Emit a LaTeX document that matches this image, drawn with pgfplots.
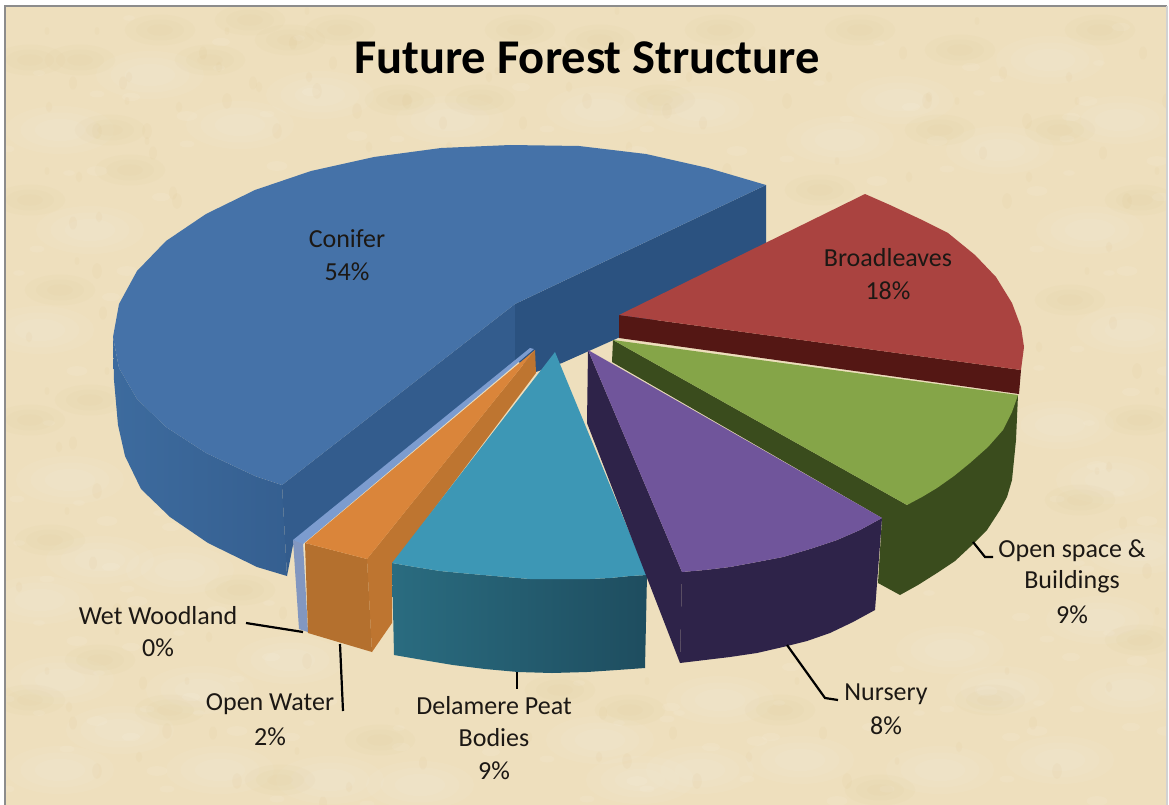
\documentclass[border=0pt]{standalone}
\usepackage{pgfplots}
\usepackage{pgfplotstable}
\pgfplotsset{compat=1.18}
\usepackage{fontspec}
\setmainfont{Carlito}
\definecolor{bg}{HTML}{EEDFBD}
\definecolor{blot}{HTML}{D9BE86}
\definecolor{bluetop}{HTML}{4572A8}
\definecolor{bluewalla}{HTML}{3D6B9E}
\definecolor{bluewallb}{HTML}{355F90}
\definecolor{bluein}{HTML}{335C8D}
\definecolor{blueinr}{HTML}{2B5280}
\definecolor{redtop}{HTML}{AA4340}
\definecolor{redwall}{HTML}{541714}
\definecolor{greentop}{HTML}{85A548}
\definecolor{greenwall}{HTML}{3A4C1D}
\definecolor{purpletop}{HTML}{70559B}
\definecolor{purplewall}{HTML}{2E2349}
\definecolor{tealtop}{HTML}{3D97B5}
\definecolor{tealwalla}{HTML}{2A6C80}
\definecolor{tealwallb}{HTML}{1E4D5F}
\definecolor{orangetop}{HTML}{DA853A}
\definecolor{orangewall}{HTML}{B4702E}
\definecolor{orangewallb}{HTML}{BE7530}
\definecolor{wettop}{HTML}{7C9CCF}
\definecolor{wetwall}{HTML}{8297C0}
\definecolor{txt}{HTML}{1C1814}
\tikzset{lab/.style={font=\fontsize{26}{26}\selectfont,text=txt,anchor=center,inner sep=0pt},
 lead/.style={black,line width=2.2pt},
 lb/.style={only marks,mark=*,mark size=#1,mark options={draw opacity=0,fill=white,fill opacity=0.05,xscale=1.8,yscale=0.8}},
 db/.style={only marks,mark=*,mark size=#1,mark options={draw opacity=0,fill=blot,fill opacity=0.06,xscale=1.6,yscale=0.7}},
 lg/.style={only marks,mark=*,mark size=#1,mark options={draw opacity=0,fill=white,fill opacity=0.08,xscale=1.5,yscale=0.7}},
 dg/.style={only marks,mark=*,mark size=#1,mark options={draw opacity=0,fill=blot,fill opacity=0.09,xscale=0.8,yscale=1.3}}}
\pgfplotstableread{
x y
60 130
150 75
240 125
320 95
90 230
40 330
70 480
40 600
100 560
180 570
120 730
220 770
60 770
330 780
420 785
600 740
700 770
800 760
940 770
1060 760
1130 690
1110 480
1060 425
1130 330
1090 230
1000 150
1120 120
900 100
1050 60
840 140
700 110
600 110
450 120
1000 690
1100 620
720 700
640 780
290 660
200 690
60 680
1140 550
950 650
}\lightblots
\pgfplotstableread{
x y
30 60
110 130
210 60
290 40
130 170
30 200
60 290
30 420
90 400
50 540
240 590
100 660
30 700
170 710
280 780
380 740
560 690
630 710
780 710
880 790
990 700
1140 640
1080 500
1140 420
1070 300
1140 200
940 130
1060 130
860 30
1100 30
960 50
660 100
480 100
820 190
340 30
400 100
520 30
600 40
720 30
250 20
160 30
80 60
}\darkblots
\begin{document}
\begin{tikzpicture}
\begin{axis}[scale only axis,width=1169pt,height=805pt,xmin=0,xmax=1169,ymin=0,ymax=805,y dir=reverse,
  hide axis,clip=true,clip marker paths=true]
% background
\addplot[draw=none,fill=bg] coordinates {(5,6)(1167,6)(1167,805)(5,805)} -- cycle;
% mottling
\addplot[lb=30pt] table {\lightblots};
\addplot[lb=22pt] table {\lightblots};
\addplot[lb=14pt] table {\lightblots};
\addplot[db=22pt] table {\darkblots};
\addplot[db=15pt] table {\darkblots};
\addplot[db=8pt] table {\darkblots};
\addplot[lg=7pt] table[x expr=\thisrow{x}+37,y expr=\thisrow{y}+41] {\lightblots};
\addplot[lg=5pt] table[x expr=\thisrow{x}-53,y expr=\thisrow{y}+19] {\lightblots};
\addplot[lg=6pt] table[x expr=\thisrow{x}+71,y expr=\thisrow{y}-33] {\lightblots};
\addplot[lg=4pt] table[x expr=\thisrow{x}-21,y expr=\thisrow{y}-57] {\lightblots};
\addplot[dg=5pt] table[x expr=\thisrow{x}+43,y expr=\thisrow{y}+23] {\darkblots};
\addplot[dg=4pt] table[x expr=\thisrow{x}-31,y expr=\thisrow{y}+47] {\darkblots};
\addplot[dg=6pt] table[x expr=\thisrow{x}+67,y expr=\thisrow{y}+71] {\darkblots};
\addplot[dg=3pt] table[x expr=\thisrow{x}+17,y expr=\thisrow{y}-29] {\darkblots};
% white margin and frame
\addplot[draw=none,fill=white] coordinates {(0,0)(1169,0)(1169,6)(0,6)} -- cycle;
\addplot[draw=none,fill=white] coordinates {(0,0)(5,0)(5,805)(0,805)} -- cycle;
\addplot[draw=none,fill=white] coordinates {(1167,0)(1169,0)(1169,805)(1167,805)} -- cycle;
\addplot[draw=gray!90,line width=2pt] coordinates {(5,805)(5,6)(1167,6)};
\addplot[draw=gray!35,line width=1.5pt] coordinates {(1167,6)(1167,805)};
% conifer
\addplot[draw=none,left color=bluewalla,right color=bluewallb] coordinates {(113,337)(119,368)(137,399)(166,427)(206,453)(255,476)(282,485)(287,576)(257,567)(208,543)(170,517)(141,489)(125,456)(118,425)(114,380)} -- cycle;
\addplot[draw=none,fill=bluein] coordinates {(282,485)(515,304)(515,348)(530,348)(293,545)(287,576)} -- cycle;
\addplot[draw=none,fill=blueinr] coordinates {(515,304)(766,185)(766,272)(562,363)(536,372)(515,360)} -- cycle;
\addplot[draw=none,fill=bluetop] coordinates {(113,337)(119,304)(137,271)(166,241)(206,214)(255,190)(311,171)(374,157)(441,148)(510,145)(579,146)(646,154)(708,168)(766,185)(515,304)(282,485)(255,476)(206,453)(166,427)(137,399)(119,368)} -- cycle;
% wet woodland
\addplot[draw=none,fill=wetwall] coordinates {(293,540)(303,543)(308,632)(299,629)} -- cycle;
\addplot[draw=none,fill=wettop] coordinates {(293,540)(530,348)(534,349)(303,544)} -- cycle;
% open water
\addplot[draw=none,fill=orangewallb] coordinates {(367,559)(535,350)(536,373)(392,565)(392,623)(372,652)} -- cycle;
\addplot[draw=none,fill=orangewall] coordinates {(305,543)(367,559)(372,652)(308,633)} -- cycle;
\addplot[draw=none,fill=orangetop] coordinates {(305,543)(535,350)(367,559)} -- cycle;
% peat
\addplot[draw=none,left color=tealwalla,right color=tealwallb] coordinates {(392,563)(415,567)(440,571)(461,573)(483,575)(506,577)(530,579)(550,579)(570,579)(590,579)(610,578)(630,576)(647,575)(645,668)(617,670)(587,672)(552,673)(518,672)(485,669)(453,665)(423,660)(394,655)} -- cycle;
\addplot[draw=none,fill=tealtop] coordinates {(555,352)(647,575)(630,576)(610,578)(590,579)(570,579)(550,579)(530,579)(506,577)(483,575)(461,573)(440,571)(415,567)(392,563)} -- cycle;
% open space
\addplot[draw=none,fill=greenwall] coordinates {(613,340)(907,505)(1018,395)(1016,440)(1012,480)(1007,497)(1000,510)(987,530)(970,547)(955,561)(937,573)(918,585)(900,595)(878,583)(882,518)(612,362)} -- cycle;
\addplot[draw=none,fill=greentop] coordinates {(613,340)(1018,395)(1012,412)(1003,430)(988,447)(970,463)(954,476)(937,488)(922,497)(907,505)} -- cycle;
% nursery
\addplot[draw=none,fill=purplewall] coordinates {(588,350)(682,572)(680,663)(587,423)} -- cycle;
\addplot[draw=none,fill=purplewall] coordinates {(682,572)(705,570)(730,567)(757,562)(783,557)(810,549)(837,540)(860,530)(882,518)(875,610)(853,622)(830,633)(807,641)(783,647)(757,653)(730,657)(705,660)(680,663)} -- cycle;
\addplot[draw=none,fill=purpletop] coordinates {(588,350)(882,518)(860,530)(837,540)(810,549)(783,557)(757,562)(730,567)(705,570)(682,572)} -- cycle;
% broadleaves
\addplot[draw=none,fill=redwall] coordinates {(619,315)(1021,370)(1019,394)(619,338)} -- cycle;
\addplot[draw=none,fill=redtop] coordinates {(619,315)(865,194)(890,205)(920,219)(948,233)(975,255)(996,277)(1012,303)(1021,327)(1024,347)(1021,370)} -- cycle;
% leaders
\addplot[lead] coordinates {(246,623)(303,632)};
\addplot[lead] coordinates {(340,644)(343,711)};
\addplot[lead] coordinates {(517,672)(517,689)};
\addplot[lead] coordinates {(787,645)(825,698)(838,700)};
\addplot[lead] coordinates {(973,542)(985,557)(993,557)};
% text
\node[font=\fontsize{48.5}{48.5}\selectfont\bfseries,text=black,inner sep=0pt] at (axis cs:587,58) {Future Forest Structure};
\node[lab] at (axis cs:347,239) {Conifer};
\node[lab] at (axis cs:347,272) {54\%};
\node[lab] at (axis cs:888,258) {Broadleaves};
\node[lab] at (axis cs:888,291) {18\%};
\node[lab] at (axis cs:158,616) {Wet Woodland};
\node[lab] at (axis cs:158,648) {0\%};
\node[lab] at (axis cs:270,704) {Open Water};
\node[lab] at (axis cs:270,737) {2\%};
\node[lab] at (axis cs:494,706) {Delamere Peat};
\node[lab] at (axis cs:494,738) {Bodies};
\node[lab] at (axis cs:494,771) {9\%};
\node[lab] at (axis cs:886,694) {Nursery};
\node[lab] at (axis cs:886,726) {8\%};
\node[lab] at (axis cs:1072,551) {Open space \&};
\node[lab] at (axis cs:1072,582) {Buildings};
\node[lab] at (axis cs:1072,615) {9\%};
\end{axis}
\end{tikzpicture}
\end{document}
